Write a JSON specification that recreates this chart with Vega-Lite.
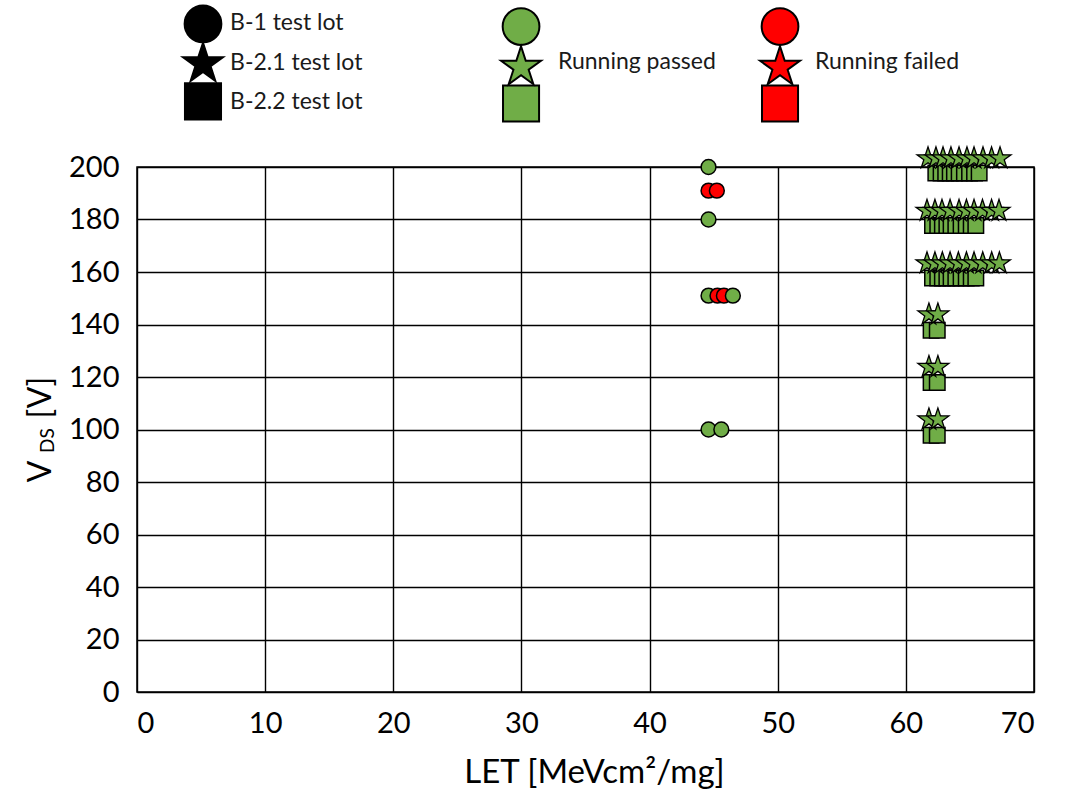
{
  "$schema": "https://vega.github.io/schema/vega-lite/v6.json",
  "width": 897,
  "height": 525,
  "autosize": {"type": "none"},
  "padding": {"left": 137, "top": 167, "right": 35, "bottom": 103},
  "background": "white",
  "config": {
    "font": "Lato",
    "view": {"stroke": "black", "strokeWidth": 1.5},
    "axis": {
      "labelFont": "Lato",
      "titleFont": "Lato",
      "labelColor": "black",
      "titleColor": "black",
      "titleFontWeight": "normal",
      "gridColor": "black",
      "gridOpacity": 1,
      "gridWidth": 1.4,
      "ticks": false,
      "domain": false
    }
  },
  "datasets": {
    "points": [
      {"lot": "B-1", "LET": 44.6, "VDS": 200, "status": "passed"},
      {"lot": "B-1", "LET": 44.6, "VDS": 191, "status": "failed"},
      {"lot": "B-1", "LET": 45.25, "VDS": 191, "status": "failed"},
      {"lot": "B-1", "LET": 44.6, "VDS": 180, "status": "passed"},
      {"lot": "B-1", "LET": 44.6, "VDS": 151, "status": "passed"},
      {"lot": "B-1", "LET": 45.3, "VDS": 151, "status": "failed"},
      {"lot": "B-1", "LET": 45.8, "VDS": 151, "status": "failed"},
      {"lot": "B-1", "LET": 46.5, "VDS": 151, "status": "passed"},
      {"lot": "B-1", "LET": 44.6, "VDS": 100, "status": "passed"},
      {"lot": "B-1", "LET": 45.6, "VDS": 100, "status": "passed"},

      {"lot": "B-2.2", "LET": 62.34, "VDS": 197.7, "status": "passed"},
      {"lot": "B-2.2", "LET": 62.75, "VDS": 197.7, "status": "passed"},
      {"lot": "B-2.2", "LET": 63.11, "VDS": 197.7, "status": "passed"},
      {"lot": "B-2.2", "LET": 63.46, "VDS": 197.7, "status": "passed"},
      {"lot": "B-2.2", "LET": 63.79, "VDS": 197.7, "status": "passed"},
      {"lot": "B-2.2", "LET": 64.16, "VDS": 197.7, "status": "passed"},
      {"lot": "B-2.2", "LET": 64.57, "VDS": 197.7, "status": "passed"},
      {"lot": "B-2.2", "LET": 64.97, "VDS": 197.7, "status": "passed"},
      {"lot": "B-2.2", "LET": 65.36, "VDS": 197.7, "status": "passed"},
      {"lot": "B-2.2", "LET": 65.72, "VDS": 197.7, "status": "passed"},
      {"lot": "B-2.2", "LET": 62.08, "VDS": 177.7, "status": "passed"},
      {"lot": "B-2.2", "LET": 62.49, "VDS": 177.7, "status": "passed"},
      {"lot": "B-2.2", "LET": 62.85, "VDS": 177.7, "status": "passed"},
      {"lot": "B-2.2", "LET": 63.2, "VDS": 177.7, "status": "passed"},
      {"lot": "B-2.2", "LET": 63.53, "VDS": 177.7, "status": "passed"},
      {"lot": "B-2.2", "LET": 63.9, "VDS": 177.7, "status": "passed"},
      {"lot": "B-2.2", "LET": 64.31, "VDS": 177.7, "status": "passed"},
      {"lot": "B-2.2", "LET": 64.71, "VDS": 177.7, "status": "passed"},
      {"lot": "B-2.2", "LET": 65.1, "VDS": 177.7, "status": "passed"},
      {"lot": "B-2.2", "LET": 65.46, "VDS": 177.7, "status": "passed"},
      {"lot": "B-2.2", "LET": 62.08, "VDS": 157.7, "status": "passed"},
      {"lot": "B-2.2", "LET": 62.49, "VDS": 157.7, "status": "passed"},
      {"lot": "B-2.2", "LET": 62.85, "VDS": 157.7, "status": "passed"},
      {"lot": "B-2.2", "LET": 63.2, "VDS": 157.7, "status": "passed"},
      {"lot": "B-2.2", "LET": 63.53, "VDS": 157.7, "status": "passed"},
      {"lot": "B-2.2", "LET": 63.9, "VDS": 157.7, "status": "passed"},
      {"lot": "B-2.2", "LET": 64.31, "VDS": 157.7, "status": "passed"},
      {"lot": "B-2.2", "LET": 64.71, "VDS": 157.7, "status": "passed"},
      {"lot": "B-2.2", "LET": 65.1, "VDS": 157.7, "status": "passed"},
      {"lot": "B-2.2", "LET": 65.46, "VDS": 157.7, "status": "passed"},
      {"lot": "B-2.2", "LET": 61.97, "VDS": 137.8, "status": "passed"},
      {"lot": "B-2.2", "LET": 62.45, "VDS": 137.8, "status": "passed"},
      {"lot": "B-2.2", "LET": 61.97, "VDS": 117.9, "status": "passed"},
      {"lot": "B-2.2", "LET": 62.45, "VDS": 117.9, "status": "passed"},
      {"lot": "B-2.2", "LET": 61.97, "VDS": 97.8, "status": "passed"},
      {"lot": "B-2.2", "LET": 62.45, "VDS": 97.8, "status": "passed"},

      {"lot": "B-2.1", "LET": 61.73, "VDS": 203.3, "status": "passed"},
      {"lot": "B-2.1", "LET": 62.35, "VDS": 203.3, "status": "passed"},
      {"lot": "B-2.1", "LET": 62.9, "VDS": 203.3, "status": "passed"},
      {"lot": "B-2.1", "LET": 63.52, "VDS": 203.3, "status": "passed"},
      {"lot": "B-2.1", "LET": 64.15, "VDS": 203.3, "status": "passed"},
      {"lot": "B-2.1", "LET": 64.77, "VDS": 203.3, "status": "passed"},
      {"lot": "B-2.1", "LET": 65.32, "VDS": 203.3, "status": "passed"},
      {"lot": "B-2.1", "LET": 66.02, "VDS": 203.3, "status": "passed"},
      {"lot": "B-2.1", "LET": 66.69, "VDS": 203.3, "status": "passed"},
      {"lot": "B-2.1", "LET": 67.35, "VDS": 203.3, "status": "passed"},
      {"lot": "B-2.1", "LET": 61.65, "VDS": 183.3, "status": "passed"},
      {"lot": "B-2.1", "LET": 62.27, "VDS": 183.3, "status": "passed"},
      {"lot": "B-2.1", "LET": 62.82, "VDS": 183.3, "status": "passed"},
      {"lot": "B-2.1", "LET": 63.45, "VDS": 183.3, "status": "passed"},
      {"lot": "B-2.1", "LET": 64.15, "VDS": 183.3, "status": "passed"},
      {"lot": "B-2.1", "LET": 64.73, "VDS": 183.3, "status": "passed"},
      {"lot": "B-2.1", "LET": 65.32, "VDS": 183.3, "status": "passed"},
      {"lot": "B-2.1", "LET": 65.98, "VDS": 183.3, "status": "passed"},
      {"lot": "B-2.1", "LET": 66.69, "VDS": 183.3, "status": "passed"},
      {"lot": "B-2.1", "LET": 67.27, "VDS": 183.3, "status": "passed"},
      {"lot": "B-2.1", "LET": 61.65, "VDS": 163.3, "status": "passed"},
      {"lot": "B-2.1", "LET": 62.27, "VDS": 163.3, "status": "passed"},
      {"lot": "B-2.1", "LET": 62.85, "VDS": 163.3, "status": "passed"},
      {"lot": "B-2.1", "LET": 63.45, "VDS": 163.3, "status": "passed"},
      {"lot": "B-2.1", "LET": 64.1, "VDS": 163.3, "status": "passed"},
      {"lot": "B-2.1", "LET": 64.73, "VDS": 163.3, "status": "passed"},
      {"lot": "B-2.1", "LET": 65.32, "VDS": 163.3, "status": "passed"},
      {"lot": "B-2.1", "LET": 66.0, "VDS": 163.3, "status": "passed"},
      {"lot": "B-2.1", "LET": 66.7, "VDS": 163.3, "status": "passed"},
      {"lot": "B-2.1", "LET": 67.3, "VDS": 163.3, "status": "passed"},
      {"lot": "B-2.1", "LET": 61.8, "VDS": 143.8, "status": "passed"},
      {"lot": "B-2.1", "LET": 62.5, "VDS": 143.8, "status": "passed"},
      {"lot": "B-2.1", "LET": 61.8, "VDS": 123.8, "status": "passed"},
      {"lot": "B-2.1", "LET": 62.5, "VDS": 123.8, "status": "passed"},
      {"lot": "B-2.1", "LET": 61.8, "VDS": 103.8, "status": "passed"},
      {"lot": "B-2.1", "LET": 62.5, "VDS": 103.8, "status": "passed"}
    ],
    "legendSymbols": [
      {"lot": "B-1", "LET": 5.15, "VDS": 254.5, "status": "lot"},
      {"lot": "B-2.1", "LET": 5.15, "VDS": 239.3, "status": "lot"},
      {"lot": "B-2.2", "LET": 5.15, "VDS": 225.0, "status": "lot"},
      {"lot": "B-1", "LET": 29.97, "VDS": 253.5, "status": "passed"},
      {"lot": "B-2.1", "LET": 29.97, "VDS": 238.0, "status": "passed"},
      {"lot": "B-2.2", "LET": 29.97, "VDS": 224.2, "status": "passed"},
      {"lot": "B-1", "LET": 50.18, "VDS": 253.5, "status": "failed"},
      {"lot": "B-2.1", "LET": 50.18, "VDS": 238.0, "status": "failed"},
      {"lot": "B-2.2", "LET": 50.18, "VDS": 224.2, "status": "failed"}
    ],
    "legendLabels": [
      {"label": "B-1 test lot", "LET": 7.26, "VDS": 254.7},
      {"label": "B-2.1 test lot", "LET": 7.26, "VDS": 239.5},
      {"label": "B-2.2 test lot", "LET": 7.26, "VDS": 224.9},
      {"label": "Running passed", "LET": 32.85, "VDS": 240.1},
      {"label": "Running failed", "LET": 52.91, "VDS": 240.1}
    ]
  },
  "layer": [
    {
      "data": {"name": "points"},
      "transform": [{"filter": "datum.lot === 'B-2.2'"}],
      "mark": {"type": "point", "shape": "square", "filled": true, "size": 240, "stroke": "black", "strokeWidth": 1.5, "opacity": 1},
      "encoding": {
        "x": {
          "field": "LET", "type": "quantitative",
          "scale": {"domain": [0, 70], "nice": false},
          "axis": {
            "values": [0, 10, 20, 30, 40, 50, 60, 70],
            "grid": true,
            "labelFontSize": 29,
            "labelPadding": 17,
            "title": "LET [MeVcm²/mg]",
            "titleFontSize": 33,
            "titleX": 457,
            "titleY": 90,
            "titleBaseline": "alphabetic",
            "titleAlign": "center"
          }
        },
        "y": {
          "field": "VDS", "type": "quantitative",
          "scale": {"domain": [0, 200], "nice": false},
          "axis": {
            "orient": "left",
            "values": [0, 20, 40, 60, 80, 100, 120, 140, 160, 180, 200],
            "grid": true,
            "labelFontSize": 29,
            "labelPadding": 18,
            "title": "V",
            "titleFontSize": 32,
            "titleAngle": -90,
            "titleX": -87,
            "titleY": 304,
            "titleAlign": "center",
            "titleBaseline": "alphabetic"
          }
        },
        "color": {
          "field": "status", "type": "nominal",
          "scale": {"domain": ["passed", "failed", "lot"], "range": ["#70AD47", "#FF0000", "#000000"]},
          "legend": null
        }
      }
    },
    {
      "data": {"name": "points"},
      "transform": [{"filter": "datum.lot === 'B-2.1'"}],
      "mark": {"type": "point", "shape": "M0,-1L0.2245,-0.309L0.951,-0.309L0.363,0.118L0.588,0.809L0,0.382L-0.588,0.809L-0.363,0.118L-0.951,-0.309L-0.2245,-0.309Z", "filled": true, "size": 530, "stroke": "black", "strokeWidth": 1.3, "opacity": 1},
      "encoding": {
        "x": {"field": "LET", "type": "quantitative"},
        "y": {
          "field": "VDS", "type": "quantitative",
          "axis": {
            "orient": "left",
            "labels": false, "grid": false, "ticks": false, "domain": false,
            "title": "DS",
            "titleFontSize": 19,
            "titleAngle": -90,
            "titleX": -84,
            "titleY": 273,
            "titleAlign": "center",
            "titleBaseline": "alphabetic"
          }
        },
        "color": {"field": "status", "type": "nominal", "legend": null}
      }
    },
    {
      "data": {"name": "points"},
      "transform": [{"filter": "datum.lot === 'B-1'"}],
      "mark": {"type": "point", "shape": "circle", "filled": true, "size": 220, "stroke": "black", "strokeWidth": 1.5, "opacity": 1},
      "encoding": {
        "x": {"field": "LET", "type": "quantitative"},
        "y": {
          "field": "VDS", "type": "quantitative",
          "axis": {
            "orient": "left",
            "labels": false, "grid": false, "ticks": false, "domain": false,
            "title": "[V]",
            "titleFontSize": 32,
            "titleAngle": -90,
            "titleX": -87,
            "titleY": 230,
            "titleAlign": "center",
            "titleBaseline": "alphabetic"
          }
        },
        "color": {"field": "status", "type": "nominal", "legend": null}
      }
    },
    {
      "data": {"name": "legendSymbols"},
      "transform": [{"filter": "datum.lot === 'B-1'"}],
      "mark": {"type": "point", "shape": "circle", "filled": true, "size": 1350, "stroke": "black", "strokeWidth": 2, "opacity": 1},
      "encoding": {
        "x": {"field": "LET", "type": "quantitative"},
        "y": {"field": "VDS", "type": "quantitative", "axis": null},
        "color": {"field": "status", "type": "nominal", "legend": null}
      }
    },
    {
      "data": {"name": "legendSymbols"},
      "transform": [{"filter": "datum.lot === 'B-2.2'"}],
      "mark": {"type": "point", "shape": "square", "filled": true, "size": 1300, "stroke": "black", "strokeWidth": 2, "opacity": 1},
      "encoding": {
        "x": {"field": "LET", "type": "quantitative"},
        "y": {"field": "VDS", "type": "quantitative", "axis": null},
        "color": {"field": "status", "type": "nominal", "legend": null}
      }
    },
    {
      "data": {"name": "legendSymbols"},
      "transform": [{"filter": "datum.lot === 'B-2.1'"}],
      "mark": {"type": "point", "shape": "M0,-1L0.2245,-0.309L0.951,-0.309L0.363,0.118L0.588,0.809L0,0.382L-0.588,0.809L-0.363,0.118L-0.951,-0.309L-0.2245,-0.309Z", "filled": true, "size": 1760, "stroke": "black", "strokeWidth": 2, "opacity": 1},
      "encoding": {
        "x": {"field": "LET", "type": "quantitative"},
        "y": {"field": "VDS", "type": "quantitative", "axis": null},
        "color": {"field": "status", "type": "nominal", "legend": null}
      }
    },
    {
      "data": {"name": "legendLabels"},
      "mark": {"type": "text", "align": "left", "baseline": "middle", "font": "Lato", "fontSize": 23, "color": "#1a1a1a"},
      "encoding": {
        "x": {"field": "LET", "type": "quantitative"},
        "y": {"field": "VDS", "type": "quantitative", "axis": null},
        "text": {"field": "label"}
      }
    }
  ],
  "resolve": {"axis": {"y": "independent"}}
}
